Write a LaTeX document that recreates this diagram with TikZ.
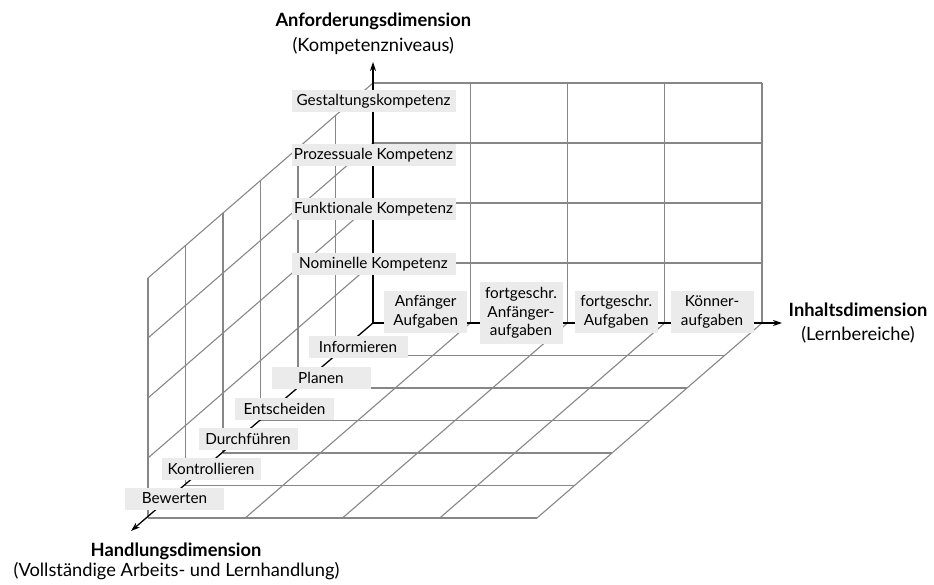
\documentclass[tikz,border=0pt]{standalone}
\usepackage{fontspec}
\setmainfont{Lato}[Ligatures={NoCommon,NoDiscretionary,NoRare}]
\usetikzlibrary{arrows.meta}
\definecolor{gridgray}{HTML}{878787}
\definecolor{boxgray}{HTML}{EBEBEB}
\tikzset{
  gridline/.style={draw=gridgray, line width=1.1pt},
  axisline/.style={draw=black, line width=1.3pt, -{Stealth[length=9pt,width=6pt]}},
  lab/.style={fill=boxgray, inner sep=0pt, font=\fontsize{15.3}{18.5}\selectfont, align=center},
  levlab/.style={lab, minimum width=164pt, minimum height=22pt},
  steplab/.style={lab, minimum width=99pt, minimum height=22pt},
  contlab/.style={lab, minimum width=83pt, minimum height=42pt},
  titlebold/.style={font=\fontsize{18.3}{21}\selectfont\bfseries, inner sep=0pt},
  titlesub/.style={font=\fontsize{18.3}{21}\selectfont, inner sep=0pt}
}
\begin{document}
\begin{tikzpicture}[x=1pt, y=-1pt]
\useasboundingbox (0,0) rectangle (934,585);
\coordinate (O) at (373,323);
\begin{scope}[shift={(373,323)}, x={(97.25pt,0pt)}, y={(0pt,60pt)}, z={(-37.5pt,-32.5pt)}]
  % back wall
  \foreach \i in {1,...,4} \draw[gridline] (\i,0,0) -- (\i,4,0);
  \foreach \j in {1,...,4} \draw[gridline] (0,\j,0) -- (4,\j,0);
  % left wall
  \foreach \k in {1,...,6} \draw[gridline] (0,0,\k) -- (0,4,\k);
  \foreach \j in {1,...,4} \draw[gridline] (0,\j,0) -- (0,\j,6);
  % floor
  \foreach \i in {1,...,4} \draw[gridline] (\i,0,0) -- (\i,0,6);
  \foreach \k in {1,...,6} \draw[gridline] (0,0,\k) -- (4,0,\k);
\end{scope}
% axes
\coordinate (yend) at (373,62);
\coordinate (xend) at (782,323);
\coordinate (zend) at (131,531);
\draw[axisline] (O) -- (yend);
\draw[axisline] (O) -- (xend);
\draw[axisline] (O) -- (zend);
% level labels
\node[levlab] (l1) at (373.5,101) {Gestaltungskompetenz};
\node[levlab] (l2) at (373.5,155.5) {Prozessuale Kompetenz};
\node[levlab] (l3) at (373.5,209.5) {Funktionale Kompetenz};
\node[levlab] (l4) at (373.5,264) {Nominelle Kompetenz};
% step labels
\node[steplab] (s1) at (358,347) {Informieren};
\node[steplab] (s2) at (321,378) {Planen};
\node[steplab] (s3) at (284.5,408.5) {Entscheiden};
\node[steplab] (s4) at (248,438.5) {Durchführen};
\node[steplab] (s5) at (211,468.5) {Kontrollieren};
\node[steplab] (s6) at (174.5,498.5) {Bewerten};
% content labels
\node[contlab] (c1) at (425.7,312) {Anfänger\\Aufgaben};
\node[contlab, minimum height=61pt] (c2) at (521,313) {fortgeschr.\\Anfänger-\\aufgaben};
\node[contlab] (c3) at (616.3,312) {fortgeschr.\\Aufgaben};
\node[contlab] (c4) at (712,312) {Könner-\\aufgaben};
% titles
\node[titlebold] (ty) at (373.3,21.5) {Anforderungsdimension};
\node[titlesub] (tys) at (373.3,45.5) {(Kompetenzniveaus)};
\node[titlebold] (tx) at (858,310) {Inhaltsdimension};
\node[titlesub] (txs) at (858,334.5) {(Lernbereiche)};
\node[titlebold] (tz) at (176,551) {Handlungsdimension};
\node[titlesub] (tzs) at (176.5,571.5) {(Vollständige Arbeits- und Lernhandlung)};
\end{tikzpicture}
\end{document}
